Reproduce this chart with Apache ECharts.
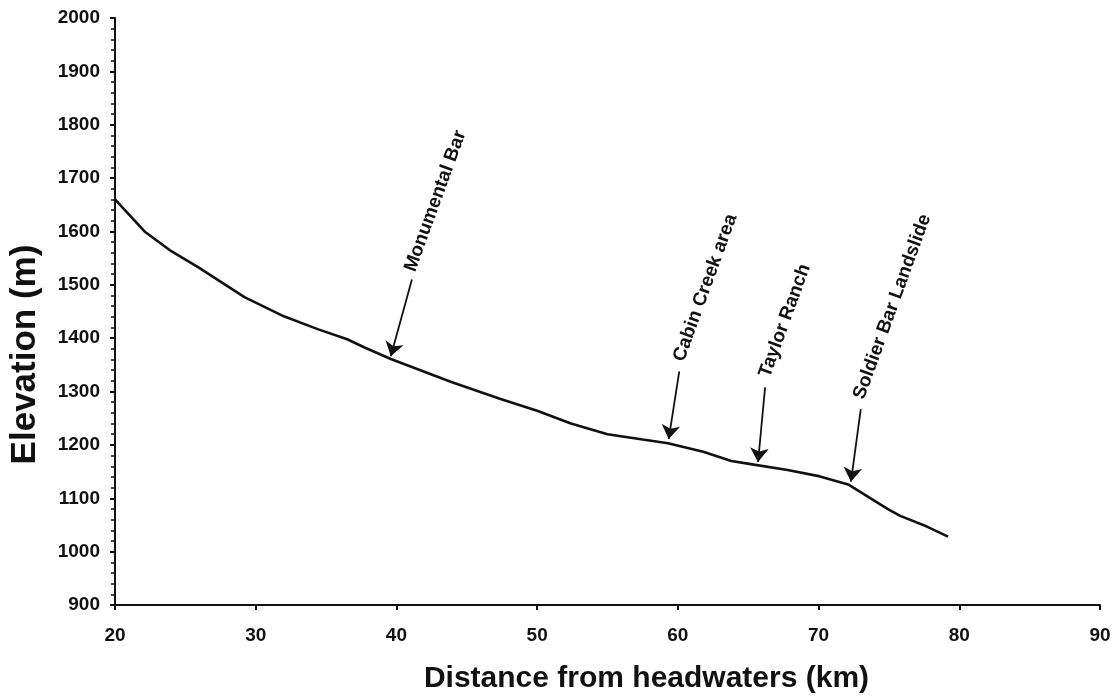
<!DOCTYPE html>
<html>
<head>
<meta charset="utf-8">
<script src="https://cdn.jsdelivr.net/npm/echarts@6/dist/echarts.min.js"></script>
<style>
  html, body { margin: 0; padding: 0; background: #fff; }
  #main { width: 1118px; height: 699px; }
</style>
</head>
<body>
<div id="main"></div>
<script>
// 河道纵剖面数据 (km, m)
var distanceKm = [20.0, 22.1, 24.0, 25.9, 29.2, 32.0, 34.4, 36.5, 37.7, 39.6, 43.9, 47.4, 50.0, 52.4,
    55.0, 57.5, 59.3, 61.8, 63.8, 65.4, 67.8, 70.1, 72.1, 73.5, 74.9, 75.8, 77.7, 79.2];
var elevationM = [1660, 1600, 1563, 1533, 1477, 1441, 1417, 1398, 1383, 1361, 1318, 1286, 1264, 1240,
    1220, 1210, 1203, 1187, 1170, 1163, 1153, 1141, 1126, 1103, 1080, 1067, 1047, 1028];

// 标注: 名称, 箭头尖端, 箭头起点, 文字起点
var annoNames = ['Monumental Bar', 'Cabin Creek area', 'Taylor Ranch', 'Soldier Bar Landslide'];
var arrowTipKm = [39.6, 59.35, 65.7, 72.3];
var arrowTipElev = [1366, 1211, 1168, 1131];
var arrowTopKm = [41.1, 60.1, 66.2, 73.0];
var arrowTopElev = [1510, 1338, 1308, 1267];
var labelKm = [41.0, 60.1, 66.2, 72.9];
var labelElev = [1525, 1357, 1327, 1286];

var font = 'Liberation Sans, Arial, sans-serif';
var ink = '#111';

var lineData = distanceKm.map(function (d, i) { return [d, elevationM[i]]; });
var arrows = annoNames.map(function (n, i) {
    return [{ coord: [arrowTopKm[i], arrowTopElev[i]] }, { coord: [arrowTipKm[i], arrowTipElev[i]] }];
});
var labels = annoNames.map(function (n, i) {
    return { name: n, coord: [labelKm[i], labelElev[i]] };
});

var myChart = echarts.init(document.getElementById('main'));
myChart.setOption({
    animation: false,
    backgroundColor: '#fff',
    grid: { left: 114, right: 18, top: 18, bottom: 92 },
    xAxis: {
        type: 'value',
        min: 20, max: 90, interval: 10,
        name: 'Distance from headwaters (km)',
        nameLocation: 'middle',
        nameGap: 59,
        nameTextStyle: { fontFamily: font, fontWeight: 'bold', fontSize: 30, color: ink, padding: [0, 0, 0, 78] },
        axisLine: { lineStyle: { color: ink, width: 2 } },
        axisTick: { length: 5, lineStyle: { color: ink, width: 2 } },
        axisLabel: { margin: 21, fontFamily: font, fontWeight: 'bold', fontSize: 19, color: ink },
        splitLine: { show: false }
    },
    yAxis: {
        type: 'value',
        min: 900, max: 2000, interval: 100,
        name: 'Elevation (m)',
        nameLocation: 'middle',
        nameRotate: 90,
        nameGap: 72,
        nameTextStyle: { fontFamily: font, fontWeight: 'bold', fontSize: 35, color: ink, padding: [0, 86, 0, 0] },
        axisLine: { show: true, lineStyle: { color: ink, width: 2 } },
        axisTick: { length: 5, lineStyle: { color: ink, width: 2 } },
        minorTick: { show: true, splitNumber: 5, length: 4, lineStyle: { color: ink, width: 1.5 } },
        axisLabel: {
            margin: 15, fontFamily: font, fontWeight: 'bold', fontSize: 19, color: ink,
            formatter: function (v) { return String(v); }
        },
        splitLine: { show: false }
    },
    series: [
        {
            type: 'line',
            data: lineData,
            showSymbol: false,
            symbol: 'none',
            lineStyle: { color: ink, width: 2.6 },
            silent: true,
            markLine: {
                silent: true,
                symbol: ['none', 'arrow'],
                symbolSize: 14,
                label: { show: false },
                lineStyle: { color: ink, width: 1.8, type: 'solid' },
                data: arrows
            },
            markPoint: {
                silent: true,
                symbol: 'circle',
                symbolSize: 1,
                itemStyle: { color: 'rgba(0,0,0,0)' },
                label: {
                    show: true,
                    formatter: '{b}',
                    position: [0, 0],
                    align: 'left',
                    verticalAlign: 'middle',
                    rotate: 70,
                    fontFamily: font,
                    fontWeight: 'bold',
                    fontSize: 19,
                    color: ink
                },
                data: labels
            }
        }
    ]
});
</script>
</body>
</html>
